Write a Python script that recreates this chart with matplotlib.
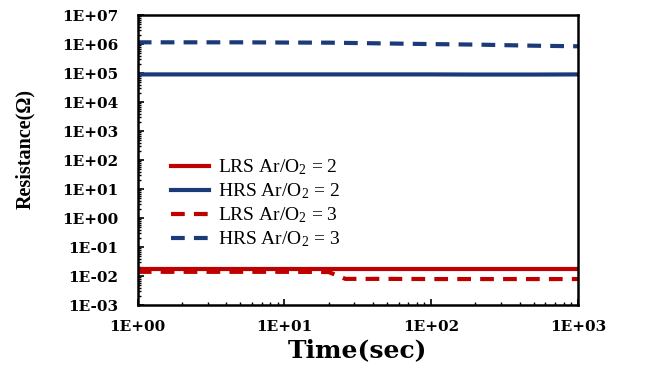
import matplotlib
matplotlib.use("Agg")
import matplotlib.pyplot as plt
from matplotlib.ticker import FixedLocator, LogLocator, NullFormatter

plt.rcParams['font.family'] = ['Liberation Serif', 'DejaVu Serif']
plt.rcParams['mathtext.default'] = 'regular'

# data
time = [1, 2, 5, 10, 20, 26, 50, 100, 200, 500, 1000]
lrs2 = [0.0178, 0.0178, 0.0178, 0.0178, 0.0178, 0.0178, 0.0178, 0.0178, 0.0178, 0.0178, 0.0178]
hrs2 = [9.0e4, 9.0e4, 9.0e4, 9.0e4, 9.0e4, 9.0e4, 9.0e4, 9.0e4, 8.9e4, 8.9e4, 9.0e4]
lrs3 = [0.0140, 0.0140, 0.0140, 0.0140, 0.0138, 0.0080, 0.0080, 0.0079, 0.0079, 0.0079, 0.0079]
hrs3 = [1.15e6, 1.15e6, 1.15e6, 1.13e6, 1.12e6, 1.1e6, 1.05e6, 1.0e6, 9.6e5, 8.8e5, 8.4e5]

yticks = [1e7, 1e6, 1e5, 1e4, 1e3, 1e2, 1e1, 1e0, 1e-1, 1e-2, 1e-3]
ytick_labels = ['1E+07', '1E+06', '1E+05', '1E+04', '1E+03', '1E+02', '1E+01',
                '1E+00', '1E-01', '1E-02', '1E-03']
xticks = [1, 10, 100, 1000]
xtick_labels = ['1E+00', '1E+01', '1E+02', '1E+03']

red = '#c00000'
navy = '#1a3a7a'
wide = ['DejaVu Serif']

fig = plt.figure(figsize=(6.56, 3.68), dpi=100)
ax = fig.add_axes([0.210, 0.171, 0.671, 0.788])

lw = 3.0
ax.plot(time, lrs2, color=red, lw=lw, label='LRS Ar/O$_2$ = 2')
ax.plot(time, hrs2, color=navy, lw=lw, label='HRS Ar/O$_2$ = 2')
ax.plot(time, lrs3, color=red, lw=lw, dashes=(3.3, 2.2), label='LRS Ar/O$_2$ = 3')
ax.plot(time, hrs3, color=navy, lw=lw, dashes=(3.3, 2.2), label='HRS Ar/O$_2$ = 3')

ax.set_xscale('log')
ax.set_yscale('log')
ax.set_xlim(1, 1000)
ax.set_ylim(1e-3, 1e7)

ax.yaxis.set_major_locator(FixedLocator(yticks))
ax.set_yticklabels(ytick_labels, fontsize=11, fontweight='bold', family=wide)
ax.yaxis.set_minor_locator(LogLocator(base=10, subs=range(2, 10), numticks=50))
ax.yaxis.set_minor_formatter(NullFormatter())
ax.xaxis.set_major_locator(FixedLocator(xticks))
ax.set_xticklabels(xtick_labels, fontsize=11, fontweight='bold', family=wide)
ax.xaxis.set_minor_locator(LogLocator(base=10, subs=range(2, 10), numticks=50))
ax.xaxis.set_minor_formatter(NullFormatter())

ax.tick_params(axis='both', which='major', direction='in', length=4, width=1.2)
ax.tick_params(axis='y', which='major', pad=14)
ax.tick_params(axis='x', which='major', pad=11)
ax.tick_params(axis='both', which='minor', direction='in', length=2.5, width=1.0)
ax.tick_params(top=False, right=False)
for s in ax.spines.values():
    s.set_linewidth(1.8)

ax.set_xlabel('Time(sec)', fontsize=18, fontweight='bold', labelpad=3, family=wide)
fig.text(0.038, 0.595, 'Resistance(Ω)', rotation=90, fontsize=14.5, fontweight='bold',
         ha='center', va='center')

leg = fig.legend(loc='upper left', bbox_to_anchor=(0.260, 0.572), frameon=False,
                 fontsize=14, handlelength=2.0, handletextpad=0.45, labelspacing=0.22,
                 borderpad=0, borderaxespad=0)

fig.savefig('out.png', dpi=100)
